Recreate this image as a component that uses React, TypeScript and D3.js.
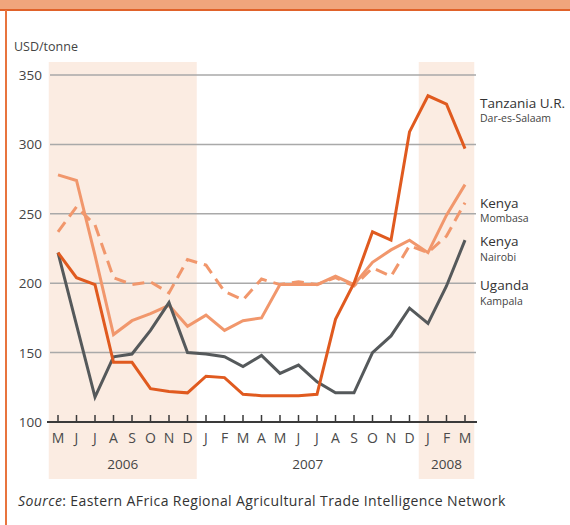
import React from 'react';
import * as d3 from 'd3';

// month letters, May 2006 .. March 2008
const months = ['M', 'J', 'J', 'A', 'S', 'O', 'N', 'D', 'J', 'F', 'M', 'A', 'M', 'J', 'J', 'A', 'S', 'O', 'N', 'D', 'J', 'F', 'M'];
const yTicks = [100, 150, 200, 250, 300, 350];

const tanzania = [222, 204, 199, 143, 143, 124, 122, 121, 133, 132, 120, 119, 119, 119, 120, 174, 200, 237, 231, 309, 335, 329, 297];
const uganda = [222, 170, 118, 147, 149, 166, 186, 150, 149, 147, 140, 148, 135, 141, 129, 121, 121, 150, 162, 182, 171, 198, 231];
const mombasa = [278, 274, 220, 163, 173, 178, 184, 169, 177, 166, 173, 175, 199, 199, 199, 205, 199, 215, 224, 231, 222, 249, 271];
const nairobi = [237, 255, 242, 204, 199, 201, 193, 217, 213, 194, 188, 203, 199, 201, 199, 204, 198, 211, 205, 227, 222, 234, 258];

// year bands: [first month index, last month index, label, shaded]
const years: [number, number, string, boolean][] = [
  [0, 7, '2006', true],
  [8, 19, '2007', false],
  [20, 22, '2008', true],
];

// label name, place, value where the label sits
const labels: [string, string, number][] = [
  ['Tanzania U.R.', 'Dar-es-Salaam', 326.5],
  ['Kenya', 'Mombasa', 254.5],
  ['Kenya', 'Nairobi', 226.5],
  ['Uganda', 'Kampala', 195],
];

const font = '"Open Sans", "DejaVu Sans", sans-serif';

export default function App() {
  const x = d3.scaleLinear().domain([0, months.length - 1]).range([58, 465]);
  const step = x(1) - x(0);
  const y = d3.scaleLinear().domain([100, 350]).range([422, 75]);
  const line = d3.line<number>().x((_, i) => x(i)).y((d) => y(d));

  const series = [
    { data: mombasa, color: '#f1976c', dash: undefined },
    { data: nairobi, color: '#f1976c', dash: '12 7' },
    { data: uganda, color: '#55595b', dash: undefined },
    { data: tanzania, color: '#e05a1f', dash: undefined },
  ];

  return (
    <svg width={570} height={525} style={{ position: 'absolute', left: 0, top: 0 }} fontFamily={font}>
      <rect x={0} y={0} width={570} height={525} fill="#fff" />
      <rect x={0} y={0} width={570} height={10} fill="#f0a57c" />
      <rect x={0} y={9} width={570} height={2} fill="#e0622a" />
      <rect x={5} y={10} width={2} height={515} fill="#e8743e" />

      <text x={14} y={51} fontSize={12.5} fill="#444">USD/tonne</text>

      {years.filter((d) => d[3]).map((d) => (
        <rect key={d[2]} x={x(d[0]) - step / 2} y={62} width={x(d[1]) - x(d[0]) + step} height={417} fill="#fbece2" />
      ))}

      {yTicks.map((t) => (
        <g key={t}>
          {t > 100 && <line x1={50} x2={476} y1={y(t)} y2={y(t)} stroke="#a9a9a9" strokeWidth={1.5} />}
          <text x={42} y={y(t) + 5} textAnchor="end" fontSize={13.5} fill="#444">{t}</text>
        </g>
      ))}

      <line x1={47} x2={477} y1={y(100)} y2={y(100)} stroke="#3a3a3a" strokeWidth={2} />
      {months.map((m, i) => (
        <g key={i}>
          <line x1={x(i)} x2={x(i)} y1={y(100)} y2={y(100) - 7} stroke="#3a3a3a" strokeWidth={1.5} />
          <text x={x(i)} y={443} textAnchor="middle" fontSize={14} fill="#4a4a4a">{m}</text>
        </g>
      ))}
      {years.map((d) => (
        <text key={d[2]} x={(x(d[0]) + x(d[1])) / 2} y={469} textAnchor="middle" fontSize={13.5} fill="#444">{d[2]}</text>
      ))}

      {series.map((s, i) => (
        <path key={i} d={line(s.data) || ''} fill="none" stroke={s.color} strokeWidth={3} strokeDasharray={s.dash} strokeLinejoin="miter" />
      ))}

      {labels.map((l, i) => (
        <g key={i}>
          <text x={480} y={y(l[2])} fontSize={13.5} fill="#333">{l[0]}</text>
          <text x={480} y={y(l[2]) + 14.5} fontSize={10.5} fill="#444">{l[1]}</text>
        </g>
      ))}

      <text x={18} y={506} fontSize={14} letterSpacing={0.4} fill="#333">
        <tspan fontStyle="italic">Source</tspan>: Eastern AFrica Regional Agricultural Trade Intelligence Network
      </text>
    </svg>
  );
}
